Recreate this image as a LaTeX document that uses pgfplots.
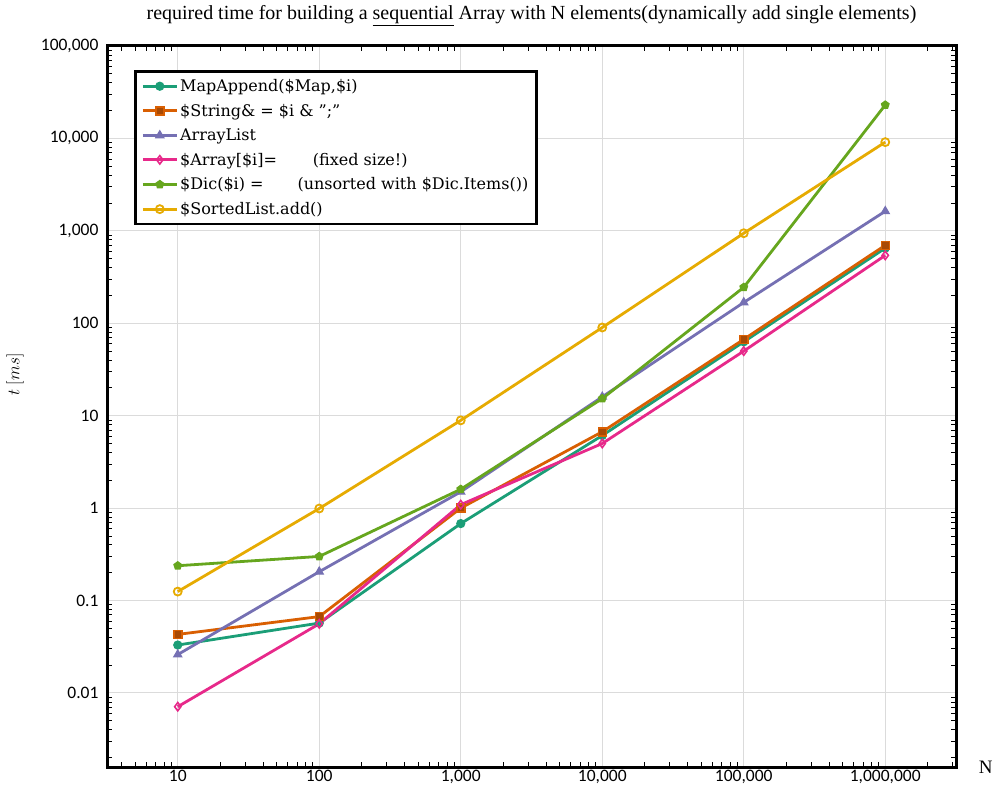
\documentclass[border=0pt]{standalone}
\usepackage{fontspec}
\setmainfont{Liberation Serif}
\newfontfamily\tickfont{Carlito}
\newfontfamily\legfont{DejaVu Serif}
\usepackage{pgfplots}
\pgfplotsset{compat=1.18}
\definecolor{cA}{HTML}{1B9E77}
\definecolor{cB}{HTML}{D95F02}
\definecolor{cBd}{HTML}{A84A05}
\definecolor{cC}{HTML}{7570B3}
\definecolor{cD}{HTML}{E7298A}
\definecolor{cE}{HTML}{66A61E}
\definecolor{cF}{HTML}{E6AB02}
\begin{document}
\begin{tikzpicture}
\begin{axis}[
  scale only axis, width=849pt, height=721pt,
  xmode=log, ymode=log,
  xmin=3.1623, xmax=3162278, ymin=0.00158, ymax=100000,
  xtick={10,100,1000,10000,100000,1000000},
  xticklabels={10,100,{1,000},{10,000},{100,000},{1,000,000}},
  ytick={0.01,0.1,1,10,100,1000,10000,100000},
  yticklabels={0.01,0.1,1,10,100,{1,000},{10,000},{100,000}},
  minor xtick={4,5,6,7,8,9,20,30,40,50,60,70,80,90,200,300,400,500,600,700,800,900,2000,3000,4000,5000,6000,7000,8000,9000,20000,30000,40000,50000,60000,70000,80000,90000,200000,300000,400000,500000,600000,700000,800000,900000,2000000,3000000},
  minor ytick={0.002,0.003,0.004,0.005,0.006,0.007,0.008,0.009,0.02,0.03,0.04,0.05,0.06,0.07,0.08,0.09,0.2,0.3,0.4,0.5,0.6,0.7,0.8,0.9,2,3,4,5,6,7,8,9,20,30,40,50,60,70,80,90,200,300,400,500,600,700,800,900,2000,3000,4000,5000,6000,7000,8000,9000,20000,30000,40000,50000,60000,70000,80000,90000},
  tick label style={font=\tickfont\fontsize{17.5}{20}\selectfont},
  yticklabel style={xshift=-5pt},
  /pgf/number format/assume math mode=true,
  major tick length=0pt, minor tick length=5pt,
  every tick/.style={black, line width=0.8pt},
  grid=major, major grid style={black!14, line width=1pt},
  minor grid style={draw=none},
  axis line style={draw=none},
  title={required time for building a \underline{sequential} Array with N elements(dynamically add single elements)},
  title style={font=\fontsize{20}{22}\selectfont, at={(axis description cs:0.5,1)}, anchor=south, yshift=11pt},
  ylabel={$t\ [ms]$},
  ylabel style={font=\fontsize{19}{22}\selectfont, at={(axis description cs:-0.1084,0.544)}, anchor=center, rotate=0},
  xlabel={N},
  xlabel style={font=\fontsize{19}{20}\selectfont, at={(axis description cs:1.035,0)}, anchor=center},
  legend style={at={(axis description cs:0.0318,0.9667)}, anchor=north west, draw=black, line width=2.8pt,
    font=\legfont\fontsize{16}{18}\selectfont, row sep=7pt, inner xsep=6pt, inner ysep=6pt},
  legend cell align=left,
  legend image code/.code={\draw[mark repeat=2,mark phase=2] plot coordinates {(0pt,0pt)(17pt,0pt)(34pt,0pt)};},
  every axis plot/.append style={line width=2.8pt, mark size=4pt},
]
\addplot[color=cA, mark=*, mark options={fill=cA, line width=1.2pt}] coordinates {
(10,0.033)(100,0.057)(1000,0.68)(10000,6.1)(100000,63)(1000000,650)};
\addlegendentry{MapAppend(\$Map,\$i)}
\addplot[color=cB, mark=square*, mark options={fill=cBd, line width=1.5pt}] coordinates {
(10,0.043)(100,0.067)(1000,1.0)(10000,6.7)(100000,67)(1000000,698)};
\addlegendentry{\$String\& = \$i \& ”;”}
\addplot[color=cC, mark=triangle*, mark options={fill=cC, line width=1.2pt}, mark size=4.6pt] coordinates {
(10,0.026)(100,0.205)(1000,1.5)(10000,16)(100000,168)(1000000,1630)};
\addlegendentry{ArrayList}
\addplot[color=cD, mark=diamond, mark options={fill=white, line width=1.6pt}, mark size=4.2pt] coordinates {
(10,0.0071)(100,0.056)(1000,1.09)(10000,5.0)(100000,50)(1000000,543)};
\addlegendentry{\$Array[\$i]=\hspace{36pt}(fixed size!)}
\addplot[color=cE, mark=pentagon*, mark options={fill=cE, line width=1.2pt}] coordinates {
(10,0.238)(100,0.30)(1000,1.6)(10000,15.3)(100000,245)(1000000,23000)};
\addlegendentry{\$Dic(\$i) =\hspace{34pt}(unsorted with \$Dic.Items())}
\addplot[color=cF, mark=o, mark options={line width=1.8pt}] coordinates {
(10,0.125)(100,0.99)(1000,8.9)(10000,90)(100000,942)(1000000,9120)};
\addlegendentry{\$SortedList.add()}
\end{axis}
\draw[draw=black, line width=3pt] (current axis.south west) -- (current axis.south east) -- (current axis.north east) -- (current axis.north west) -- cycle;
\pgfresetboundingbox
\path (-107pt,-29pt) rectangle (893pt,767pt);
\end{tikzpicture}
\end{document}
